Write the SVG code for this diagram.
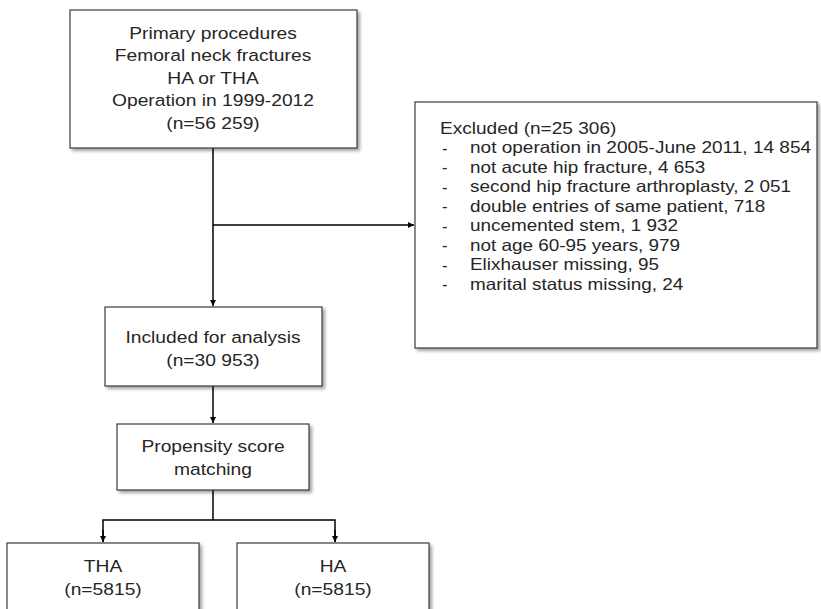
<svg xmlns="http://www.w3.org/2000/svg" width="821" height="609" viewBox="0 0 821 609">
<style>
.box{fill:#fff;stroke:#3a3a3a;stroke-width:1.2;filter:url(#sh)}
.t{font-family:"Liberation Sans",Arial,sans-serif;font-size:16.3px;fill:#262626}
.c{text-anchor:middle}
.ln{fill:none;stroke:#000;stroke-width:1.5}
</style>
<defs>
<filter id="sh" x="-10%" y="-10%" width="125%" height="125%">
<feDropShadow dx="2.5" dy="2.5" stdDeviation="1.6" flood-color="#000" flood-opacity="0.35"/>
</filter>
<marker id="ah" viewBox="0 0 10 10" refX="10" refY="5" markerWidth="6" markerHeight="6" markerUnits="userSpaceOnUse" orient="auto">
<path d="M0,0 L10,5 L0,10 z" fill="#000"/>
</marker>
</defs>
<rect width="821" height="609" fill="#fff"/>
<g id="connectors">
<line class="ln" x1="213" y1="148" x2="213" y2="306" marker-end="url(#ah)"/>
<line class="ln" x1="213" y1="225" x2="414" y2="225" marker-end="url(#ah)"/>
<line class="ln" x1="213" y1="386" x2="213" y2="423" marker-end="url(#ah)"/>
<polyline class="ln" points="213,490 213,520"/>
<polyline class="ln" points="103,542 103,520 335,520 335,542" stroke-linejoin="miter"/>
<line class="ln" x1="103" y1="530" x2="103" y2="542" marker-end="url(#ah)"/>
<line class="ln" x1="335" y1="530" x2="335" y2="542" marker-end="url(#ah)"/>
</g>
<g id="primary">
<rect class="box" x="70" y="10" width="287" height="138"/>
<g transform="translate(213,0) scale(1.18,1)">
<text class="t c" x="0" y="39">Primary procedures</text>
<text class="t c" x="0" y="61.5">Femoral neck fractures</text>
<text class="t c" x="0" y="84">HA or THA</text>
<text class="t c" x="0" y="106.5">Operation in 1999-2012</text>
<text class="t c" x="0" y="129">(n=56 259)</text>
</g>
</g>
<g id="excluded">
<rect class="box" x="415" y="102" width="402" height="246"/>
<g transform="translate(440,0) scale(1.17,1)">
<text class="t" x="0" y="134">Excluded (n=25 306)</text>
</g>
<g>
<text class="t" x="442" y="153.5">-</text>
<text class="t" x="442" y="173">-</text>
<text class="t" x="442" y="192.5">-</text>
<text class="t" x="442" y="212">-</text>
<text class="t" x="442" y="231.5">-</text>
<text class="t" x="442" y="251">-</text>
<text class="t" x="442" y="270.5">-</text>
<text class="t" x="442" y="290">-</text>
</g>
<g transform="translate(470,0) scale(1.16,1)">
<text class="t" x="0" y="153.5" textLength="294" lengthAdjust="spacingAndGlyphs">not operation in 2005-June 2011, 14 854</text>
<text class="t" x="0" y="173">not acute hip fracture, 4 653</text>
<text class="t" x="0" y="192.5">second hip fracture arthroplasty, 2 051</text>
<text class="t" x="0" y="212">double entries of same patient, 718</text>
<text class="t" x="0" y="231.5">uncemented stem, 1 932</text>
<text class="t" x="0" y="251">not age 60-95 years, 979</text>
<text class="t" x="0" y="270.5">Elixhauser missing, 95</text>
<text class="t" x="0" y="290">marital status missing, 24</text>
</g>
</g>
<g id="included">
<rect class="box" x="105" y="307" width="217" height="79"/>
<g transform="translate(213,0) scale(1.18,1)">
<text class="t c" x="0" y="343">Included for analysis</text>
<text class="t c" x="0" y="366">(n=30 953)</text>
</g>
</g>
<g id="propensity">
<rect class="box" x="117" y="424" width="192" height="66"/>
<g transform="translate(213,0) scale(1.18,1)">
<text class="t c" x="0" y="452">Propensity score</text>
<text class="t c" x="0" y="475">matching</text>
</g>
</g>
<g id="tha">
<rect class="box" x="7" y="543" width="192" height="80"/>
<g transform="translate(103,0) scale(1.18,1)">
<text class="t c" x="0" y="572">THA</text>
<text class="t c" x="0" y="595">(n=5815)</text>
</g>
</g>
<g id="ha">
<rect class="box" x="237" y="543" width="192" height="80"/>
<g transform="translate(333,0) scale(1.18,1)">
<text class="t c" x="0" y="572">HA</text>
<text class="t c" x="0" y="595">(n=5815)</text>
</g>
</g>
</svg>
